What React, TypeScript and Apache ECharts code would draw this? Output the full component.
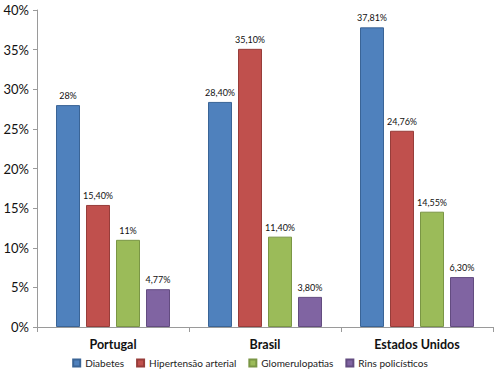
import React, { useEffect, useRef } from "react";
import * as echarts from "echarts";

const categories = ["Portugal", "Brasil", "Estados Unidos"];
const seriesNames = ["Diabetes", "Hipertensão arterial", "Glomerulopatias", "Rins policísticos"];
const diabetes = [28, 28.4, 37.81];
const hipertensao = [15.4, 35.1, 24.76];
const glomerulopatias = [11, 11.4, 14.55];
const rins = [4.77, 3.8, 6.3];
const labelTexts = [
  ["28%", "28,40%", "37,81%"],
  ["15,40%", "35,10%", "24,76%"],
  ["11%", "11,40%", "14,55%"],
  ["4,77%", "3,80%", "6,30%"],
];
const colors = ["#4F81BD", "#C0504D", "#9BBB59", "#8064A2"];
const borders = ["#3A6496", "#973D3A", "#7A9645", "#634C80"];

export default function App() {
  const ref = useRef<HTMLDivElement>(null);
  useEffect(() => {
    const chart = echarts.init(ref.current!, null, { renderer: "svg" });
    const values = [diabetes, hipertensao, glomerulopatias, rins];
    chart.setOption({
      animation: false,
      textStyle: { fontFamily: "Lato" },
      grid: { left: 37, right: 7, top: 10, bottom: 49 },
      legend: {
        bottom: 8,
        left: "center",
        padding: 0,
        itemWidth: 7,
        itemHeight: 7,
        itemGap: 12,
        icon: "rect",
        textStyle: { fontSize: 10, color: "#222", fontFamily: "Lato" },
        data: seriesNames,
      },
      xAxis: {
        type: "category",
        data: categories,
        axisLine: { lineStyle: { color: "#9a9a9a" } },
        axisTick: { show: true, length: 5, lineStyle: { color: "#9a9a9a" } },
        axisLabel: { fontSize: 12.5, fontWeight: "bold", color: "#111", margin: 11 },
      },
      yAxis: {
        type: "value",
        min: 0,
        max: 40,
        interval: 5,
        splitLine: { show: false },
        axisLine: { show: true, lineStyle: { color: "#9a9a9a" } },
        axisTick: { show: true, length: 4, lineStyle: { color: "#9a9a9a" } },
        axisLabel: { fontSize: 13, color: "#111", formatter: "{value}%", margin: 8 },
      },
      series: seriesNames.map((name, i) => ({
        name,
        type: "bar",
        data: values[i],
        barGap: "25%",
        barCategoryGap: "25%",
        itemStyle: { color: colors[i], borderColor: borders[i], borderWidth: 1 },
        label: {
          show: true,
          position: "top",
          distance: 5,
          fontSize: 9,
          color: "#111",
          formatter: (p: any) => labelTexts[i][p.dataIndex],
        },
      })),
    });
    return () => chart.dispose();
  }, []);
  return <div ref={ref} style={{ width: 500, height: 376, position: "absolute", left: 0, top: 0, background: "#fff" }} />;
}
